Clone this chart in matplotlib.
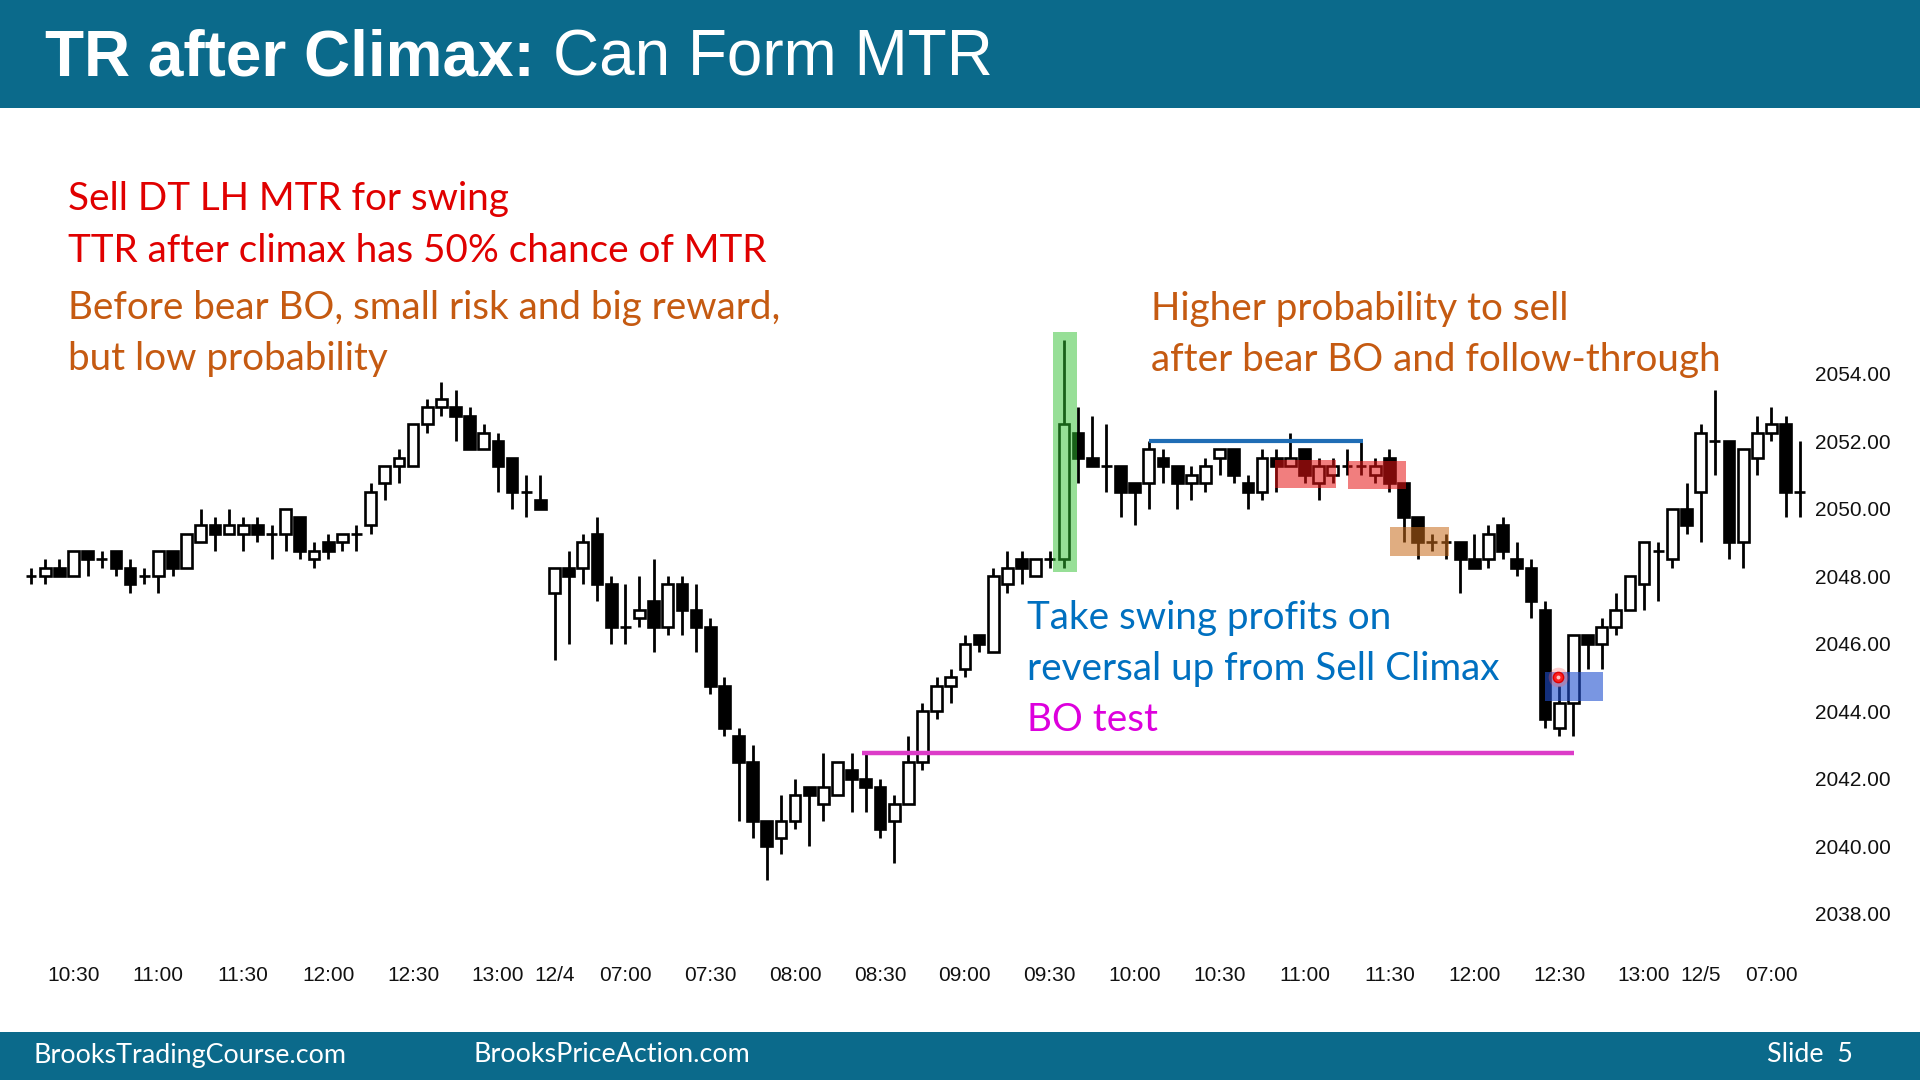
import numpy as np
import matplotlib.pyplot as plt
from matplotlib.patches import Rectangle

# ES 5 min bars, index 0 = 10:15 on 12/3, day break after index 36 and 117
opens = [
    2048.0, 2048.0, 2048.25, 2048.0, 2048.75, 2048.5, 2048.75, 2048.25, 2048.0, 2048.0,
    2048.75, 2048.25, 2049.0, 2049.5, 2049.25, 2049.25, 2049.5, 2049.25, 2049.25, 2049.75,
    2048.5, 2049.0, 2049.0, 2049.25, 2049.5, 2050.75, 2051.25, 2051.25, 2052.5, 2053.0,
    2053.0, 2052.75, 2051.75, 2052.0, 2051.5, 2050.5, 2050.25, 2047.5, 2048.25, 2048.25,
    2049.25, 2047.75, 2046.5, 2046.75, 2047.25, 2046.5, 2047.75, 2047.0, 2046.5, 2044.75,
    2043.25, 2042.5, 2040.75, 2040.25, 2040.75, 2041.75, 2041.25, 2041.5, 2042.25, 2042.0,
    2041.75, 2040.75, 2041.25, 2042.5, 2044.0, 2044.75, 2045.25, 2046.25, 2045.75, 2047.75,
    2048.5, 2048.0, 2048.5, 2048.5, 2052.25, 2051.5, 2051.25, 2051.25, 2050.75, 2050.75,
    2051.5, 2051.25, 2050.75, 2050.75, 2051.5, 2051.75, 2050.75, 2050.5, 2051.5, 2051.25,
    2051.75, 2050.75, 2051.0, 2051.25, 2051.25, 2051.0, 2051.5, 2050.75, 2049.75, 2049.0,
    2049.0, 2049.0, 2048.5, 2048.5, 2049.5, 2048.5, 2048.25, 2047.0, 2043.5, 2044.25,
    2046.25, 2046.0, 2046.5, 2047.0, 2047.75, 2048.75, 2048.5, 2050.0, 2050.5, 2052.0,
    2052.0, 2049.0, 2051.5, 2052.25, 2052.5, 2050.5]
highs = [
    2048.25, 2048.5, 2048.5, 2048.75, 2048.75, 2048.75, 2048.75, 2048.5, 2048.25, 2048.75,
    2048.75, 2049.25, 2050.0, 2049.75, 2050.0, 2049.75, 2049.75, 2049.5, 2050.0, 2049.75,
    2049.0, 2049.25, 2049.25, 2049.5, 2050.75, 2051.25, 2051.75, 2052.5, 2053.25, 2053.75,
    2053.5, 2053.0, 2052.5, 2052.25, 2051.5, 2051.0, 2051.0, 2048.25, 2048.75, 2049.25,
    2049.75, 2048.0, 2047.75, 2048.0, 2048.5, 2048.0, 2048.0, 2047.75, 2046.75, 2045.0,
    2043.5, 2043.0, 2040.75, 2041.5, 2042.0, 2041.75, 2042.75, 2042.5, 2042.75, 2042.75,
    2042.0, 2041.5, 2043.25, 2044.25, 2045.0, 2045.25, 2046.25, 2046.25, 2048.25, 2048.75,
    2048.75, 2048.5, 2048.75, 2055.0, 2053.0, 2052.75, 2052.5, 2051.25, 2050.75, 2052.0,
    2051.75, 2051.25, 2051.25, 2051.5, 2051.75, 2051.75, 2051.0, 2051.75, 2051.75, 2052.25,
    2051.75, 2051.5, 2051.5, 2051.75, 2052.0, 2051.5, 2051.75, 2050.75, 2049.75, 2049.25,
    2049.25, 2049.0, 2049.25, 2049.5, 2049.75, 2049.0, 2048.5, 2047.25, 2044.75, 2046.25,
    2046.25, 2046.75, 2047.5, 2048.0, 2049.0, 2049.0, 2050.0, 2050.75, 2052.5, 2053.5,
    2052.0, 2051.75, 2052.75, 2053.0, 2052.75, 2052.0]
lows = [
    2047.75, 2047.75, 2048.0, 2048.0, 2048.0, 2048.25, 2048.0, 2047.5, 2047.75, 2047.5,
    2048.0, 2048.25, 2049.0, 2048.75, 2049.25, 2048.75, 2049.0, 2048.5, 2048.75, 2048.5,
    2048.25, 2048.5, 2048.75, 2048.75, 2049.25, 2050.25, 2050.75, 2051.25, 2052.25, 2052.75,
    2052.0, 2051.75, 2051.75, 2050.5, 2050.0, 2049.75, 2050.0, 2045.5, 2046.0, 2047.75,
    2047.25, 2046.0, 2046.0, 2046.5, 2045.75, 2046.25, 2046.25, 2045.75, 2044.5, 2043.25,
    2040.75, 2040.25, 2039.0, 2039.75, 2040.5, 2040.0, 2040.75, 2041.5, 2041.0, 2041.0,
    2040.25, 2039.5, 2041.25, 2042.25, 2043.75, 2044.25, 2045.0, 2045.75, 2045.75, 2047.5,
    2047.75, 2048.0, 2048.25, 2048.25, 2050.75, 2051.25, 2050.5, 2049.75, 2049.5, 2050.0,
    2050.75, 2050.0, 2050.25, 2050.5, 2051.0, 2050.75, 2050.0, 2050.25, 2050.5, 2051.25,
    2050.75, 2050.25, 2050.75, 2051.0, 2051.0, 2050.75, 2050.5, 2049.0, 2048.5, 2048.75,
    2048.5, 2047.5, 2048.25, 2048.25, 2048.5, 2048.0, 2046.75, 2043.5, 2043.25, 2043.25,
    2045.25, 2045.25, 2046.25, 2047.0, 2047.0, 2047.25, 2048.25, 2049.25, 2049.0, 2051.0,
    2048.5, 2048.25, 2051.0, 2052.0, 2049.75, 2049.75]
closes = [
    2048.0, 2048.25, 2048.0, 2048.75, 2048.5, 2048.5, 2048.25, 2047.75, 2048.0, 2048.75,
    2048.25, 2049.25, 2049.5, 2049.25, 2049.5, 2049.5, 2049.25, 2049.25, 2050.0, 2048.75,
    2048.75, 2048.75, 2049.25, 2049.25, 2050.5, 2051.25, 2051.5, 2052.5, 2053.0, 2053.25,
    2052.75, 2051.75, 2052.25, 2051.25, 2050.5, 2050.5, 2050.0, 2048.25, 2048.0, 2049.0,
    2047.75, 2046.5, 2046.5, 2047.0, 2046.5, 2047.75, 2047.0, 2046.5, 2044.75, 2043.5,
    2042.5, 2040.75, 2040.0, 2040.75, 2041.5, 2041.5, 2041.75, 2042.5, 2042.0, 2041.75,
    2040.5, 2041.25, 2042.5, 2044.0, 2044.75, 2045.0, 2046.0, 2046.0, 2048.0, 2048.25,
    2048.25, 2048.5, 2048.5, 2052.5, 2051.5, 2051.25, 2051.25, 2050.5, 2050.5, 2051.75,
    2051.25, 2050.75, 2051.0, 2051.25, 2051.75, 2051.0, 2050.5, 2051.5, 2051.25, 2051.5,
    2051.0, 2051.25, 2051.25, 2051.25, 2051.25, 2051.25, 2050.75, 2049.75, 2049.0, 2049.0,
    2049.0, 2048.5, 2048.25, 2049.25, 2048.75, 2048.25, 2047.25, 2043.75, 2044.25, 2046.25,
    2046.0, 2046.5, 2047.0, 2048.0, 2049.0, 2048.75, 2050.0, 2049.5, 2052.25, 2052.0,
    2049.0, 2051.75, 2052.25, 2052.5, 2050.5, 2050.5]

tick_pos = [3, 9, 15, 21, 27, 33, 37, 42, 48, 54, 60, 66, 72, 78, 84, 90, 96, 102,
            108, 114, 118, 123]
tick_labels = ['10:30', '11:00', '11:30', '12:00', '12:30', '13:00', '12/4', '07:00',
               '07:30', '08:00', '08:30', '09:00', '09:30', '10:00', '10:30', '11:00',
               '11:30', '12:00', '12:30', '13:00', '12/5', '07:00']
price_ticks = [2038, 2040, 2042, 2044, 2046, 2048, 2050, 2052, 2054]

# highlight boxes: (bar from, bar to, price low, price high)
green_box = (72.25, 73.9, 2048.13, 2055.24)
red_boxes = [(87.95, 92.2, 2050.6, 2051.44), (93.1, 97.15, 2050.57, 2051.41)]
orange_box = (96.05, 100.2, 2048.59, 2049.46)
blue_box = (107.0, 111.1, 2044.3, 2045.16)
dt_line = (79.0, 94.1, 2052.0)      # double top line
bo_line = (58.75, 109.05, 2042.75)  # breakout test line
entry_dot = (107.9, 2045.0)

# slide geometry in pixels
W, H = 1920, 1080
X0, DX = 31.0, 14.15     # x of bar 0, px per bar
Y0, DY = 373.5, 33.75    # y of 2054, px per point
TEAL = '#0b6a8b'

plt.rcParams['font.family'] = ['Liberation Sans', 'DejaVu Sans']


def fpos(x, y):
    return x / W, 1 - y / H


def add_box(ax, box, color, alpha):
    x0, x1, y0, y1 = box
    ax.add_patch(Rectangle((x0, y0), x1 - x0, y1 - y0, facecolor=color, edgecolor='none',
                           alpha=alpha, zorder=5))


def draw_candles(ax):
    o = np.array(opens)
    h = np.array(highs)
    l = np.array(lows)
    c = np.array(closes)
    idx = np.arange(len(o))
    up = c >= o
    lo = np.minimum(o, c)
    hgt = np.abs(c - o)
    ax.vlines(idx, l, h, color='black', lw=2.0, zorder=2)
    ax.bar(idx[up], hgt[up], bottom=lo[up], width=0.76, facecolor='white',
           edgecolor='black', lw=1.9, zorder=3)
    ax.bar(idx[~up], hgt[~up], bottom=lo[~up], width=0.76, facecolor='black',
           edgecolor='black', lw=1.9, zorder=3)


fig = plt.figure(figsize=(W / 100, H / 100), dpi=100)
fig.patch.set_facecolor('white')

# header and footer bands
fig.add_artist(Rectangle((0, 1 - 108 / H), 1, 108 / H, transform=fig.transFigure,
                         facecolor=TEAL, edgecolor='none'))
fig.add_artist(Rectangle((0, 0), 1, 48 / H, transform=fig.transFigure,
                         facecolor=TEAL, edgecolor='none'))

fig.text(*fpos(45, 76), 'TR after Climax:', color='white', fontsize=46,
         fontweight='bold', va='baseline')
fig.text(*fpos(553, 76), 'Can Form MTR', color='white', fontsize=46, va='baseline')

foot = dict(color='white', fontsize=19.4, family='Lato', va='center')
fig.text(*fpos(34, 1055), 'BrooksTradingCourse.com', **foot)
fig.text(*fpos(474, 1055), 'BrooksPriceAction.com', **foot)
fig.text(*fpos(1767, 1055), 'Slide  5', **foot)

# chart
left, right, top, bottom = 0, 1812, 320, 940
ax = fig.add_axes([left / W, 1 - bottom / H, (right - left) / W, (bottom - top) / H])
ax.set_xlim((left - X0) / DX, (right - X0) / DX)
ax.set_ylim(2054 - (bottom - Y0) / DY, 2054 + (Y0 - top) / DY)
ax.set_facecolor('none')
for s in ax.spines.values():
    s.set_visible(False)

draw_candles(ax)

add_box(ax, green_box, '#30c030', 0.5)
for b in red_boxes:
    add_box(ax, b, '#e61414', 0.55)
add_box(ax, orange_box, '#c86a1a', 0.55)
add_box(ax, blue_box, '#2050d0', 0.6)

ax.hlines(dt_line[2], dt_line[0], dt_line[1], color='#1f6db5', lw=3.0, zorder=4)
ax.hlines(bo_line[2], bo_line[0], bo_line[1], color='#dc3cc8', lw=3.2, zorder=4)

ax.scatter([entry_dot[0]], [entry_dot[1]], s=200, color='#ff6060', alpha=0.3, lw=0, zorder=6)
ax.scatter([entry_dot[0]], [entry_dot[1]], s=55, facecolor='#ff2020', edgecolor='#e00000',
           lw=1, zorder=7)
ax.scatter([entry_dot[0]], [entry_dot[1]], s=8, color='#ffc0c0', lw=0, zorder=8)

ax.set_xticks(tick_pos)
ax.set_xticklabels(tick_labels)
ax.set_yticks(price_ticks)
ax.set_yticklabels(['{:.2f}'.format(p) for p in price_ticks])
ax.yaxis.tick_right()
ax.tick_params(axis='x', length=0, pad=18.5, labelsize=15, labelcolor='#111111')
ax.tick_params(axis='y', length=0, pad=2, labelsize=15, labelcolor='#111111')

# slide notes
note = dict(fontsize=27.8, family='Lato', va='baseline')
fig.text(*fpos(68, 210), 'Sell DT LH MTR for swing', color='#e00000', **note)
fig.text(*fpos(68, 262), 'TTR after climax has 50% chance of MTR', color='#e00000', **note)
fig.text(*fpos(68, 319), 'Before bear BO, small risk and big reward,', color='#c55a11', **note)
fig.text(*fpos(68, 370), 'but low probability', color='#c55a11', **note)
fig.text(*fpos(1151, 320), 'Higher probability to sell', color='#c55a11', **note)
fig.text(*fpos(1151, 371), 'after bear BO and follow-through', color='#c55a11', **note)
fig.text(*fpos(1027, 629), 'Take swing profits on', color='#0070c0', **note)
fig.text(*fpos(1027, 680), 'reversal up from Sell Climax', color='#0070c0', **note)
fig.text(*fpos(1027, 731), 'BO test', color='#dd00dd', **note)

fig.savefig('out.png', dpi=100, facecolor='white')
